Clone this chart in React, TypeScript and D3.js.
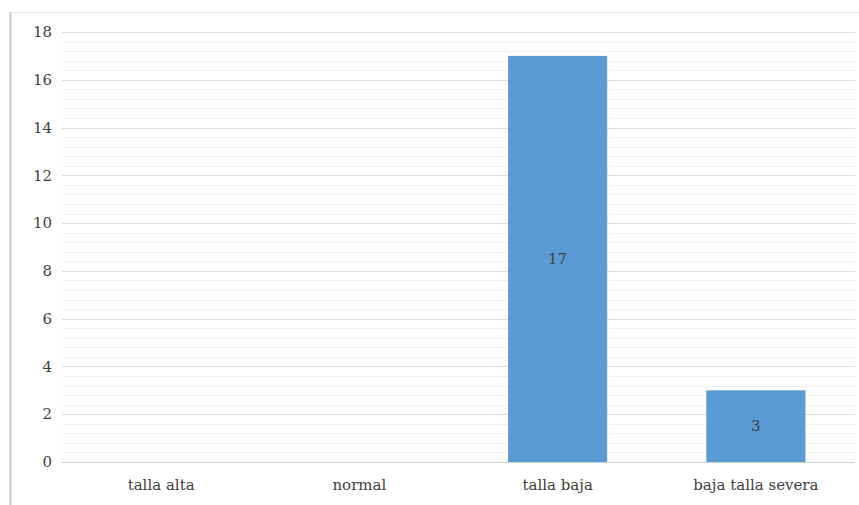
import { useEffect, useRef } from 'react';
import * as d3 from 'd3';

const categories = ['talla alta', 'normal', 'talla baja', 'baja talla severa'];
const values = [0, 0, 17, 3];
const yTicks = [0, 2, 4, 6, 8, 10, 12, 14, 16, 18];

const FONT = "'DejaVu Serif', 'Liberation Serif', serif";

const App = () => {
  const svgRef = useRef<SVGSVGElement>(null);

  useEffect(() => {
    const W = 859;
    const H = 505;
    const margin = { top: 32, right: 4, bottom: 43, left: 62 };
    const width = W - margin.left - margin.right;
    const height = H - margin.top - margin.bottom;

    const root = d3.select(svgRef.current);
    root.selectAll('*').remove();
    root.attr('width', W).attr('height', H).attr('font-family', FONT);

    // frame
    root.append('line')
      .attr('x1', 10).attr('x2', W).attr('y1', 12.5).attr('y2', 12.5)
      .attr('stroke', '#e3e3e3');
    root.append('line')
      .attr('x1', 10.5).attr('x2', 10.5).attr('y1', 12).attr('y2', H)
      .attr('stroke', '#c8c8c8').attr('stroke-width', 2);

    const svg = root.append('g')
      .attr('transform', `translate(${margin.left},${margin.top})`);

    const x = d3.scaleBand().domain(categories).range([0, width]).paddingInner(0.5).paddingOuter(0.25);
    const band = d3.scaleBand().domain(categories).range([0, width]);
    const y = d3.scaleLinear().domain([0, 18]).range([height, 0]);

    // minor gridlines
    const minor = d3.range(0, 18.001, 0.4).filter(v => Math.abs(v / 2 - Math.round(v / 2)) > 0.01);
    svg.selectAll('.minor')
      .data(minor)
      .enter()
      .append('line')
      .attr('x1', 0).attr('x2', width)
      .attr('y1', d => Math.round(y(d)) + 0.5).attr('y2', d => Math.round(y(d)) + 0.5)
      .attr('stroke', '#f0f0f0');

    svg.selectAll('.major')
      .data(yTicks)
      .enter()
      .append('line')
      .attr('x1', 0).attr('x2', width)
      .attr('y1', d => Math.round(y(d)) + 0.5).attr('y2', d => Math.round(y(d)) + 0.5)
      .attr('stroke', d => (d === 0 ? '#d0d0d0' : '#dcdcdc'));

    svg.selectAll('.ytick')
      .data(yTicks)
      .enter()
      .append('text')
      .attr('x', -10)
      .attr('y', d => y(d))
      .attr('dy', '0.35em')
      .attr('text-anchor', 'end')
      .attr('font-size', 15)
      .attr('fill', '#404040')
      .text(d => d);

    const data = categories.map((c, i) => ({ c, v: values[i] }));

    svg.selectAll('.bar')
      .data(data.filter(d => d.v > 0))
      .enter()
      .append('rect')
      .attr('x', d => x(d.c) as number)
      .attr('y', d => y(d.v))
      .attr('width', x.bandwidth())
      .attr('height', d => height - y(d.v))
      .attr('fill', '#5b9bd5');

    svg.selectAll('.val')
      .data(data.filter(d => d.v > 0))
      .enter()
      .append('text')
      .attr('x', d => (x(d.c) as number) + x.bandwidth() / 2)
      .attr('y', d => (y(d.v) + height) / 2)
      .attr('dy', '0.35em')
      .attr('text-anchor', 'middle')
      .attr('font-size', 15)
      .attr('fill', '#404040')
      .text(d => d.v);

    svg.selectAll('.xlab')
      .data(categories)
      .enter()
      .append('text')
      .attr('x', d => (band(d) as number) + band.bandwidth() / 2)
      .attr('y', height + 28)
      .attr('text-anchor', 'middle')
      .attr('font-size', 15)
      .attr('fill', '#404040')
      .text(d => d);
  }, []);

  return <svg ref={svgRef} style={{ position: 'absolute', left: 0, top: 0 }}></svg>;
};

export default App;
